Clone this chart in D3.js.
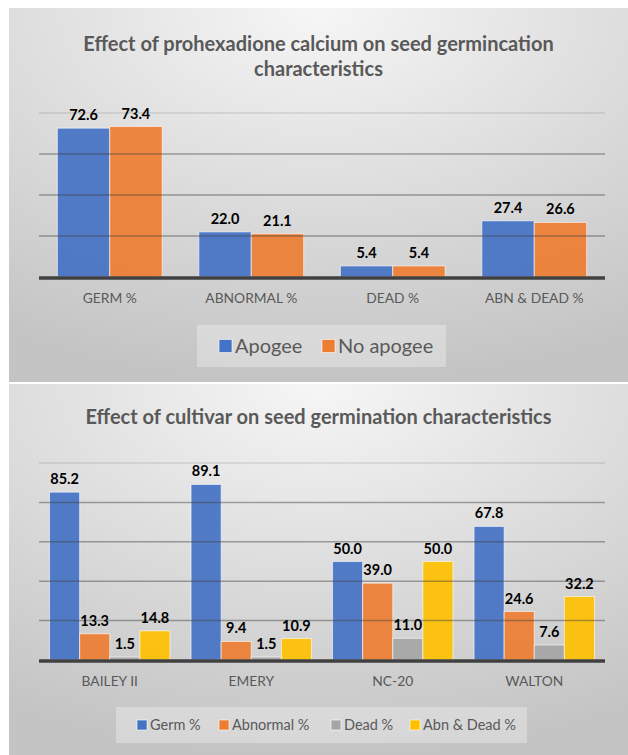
<!DOCTYPE html>
<html>
<head>
<meta charset="utf-8">
<script src="https://cdn.jsdelivr.net/npm/d3@7"></script>
<style>
  body { margin: 0; background: #fff; }
  svg { display: block; }
  text { font-family: Lato, "Open Sans", sans-serif; }
</style>
</head>
<body>
<script>
// chart 1 data
var treatCats = ["GERM %", "ABNORMAL %", "DEAD %", "ABN & DEAD %"];
var treatSeries = ["Apogee", "No apogee"];
var apogee = [72.6, 22.0, 5.4, 27.4];
var noApogee = [73.4, 21.1, 5.4, 26.6];
var treatTicks = [20, 40, 60, 80];

// chart 2 data
var cultivars = ["BAILEY II", "EMERY", "NC-20", "WALTON"];
var cultSeries = ["Germ %", "Abnormal %", "Dead %", "Abn & Dead %"];
var germ = [85.2, 89.1, 50.0, 67.8];
var abnormal = [13.3, 9.4, 39.0, 24.6];
var dead = [1.5, 1.5, 11.0, 7.6];
var abnDead = [14.8, 10.9, 50.0, 32.2];
var cultTicks = [20, 40, 60, 80, 100];

var colors = ["#4472C4", "#ED7D31", "#A5A5A5", "#FFC000"];

var svg = d3.select("body").append("svg").attr("width", 628).attr("height", 755);
var defs = svg.append("defs");
var grad = defs.append("radialGradient").attr("id", "bg")
    .attr("cx", "50%").attr("cy", "0%").attr("r", "100%").attr("fx", "50%").attr("fy", "0%");
grad.append("stop").attr("offset", "0%").attr("stop-color", "#f6f6f6");
grad.append("stop").attr("offset", "100%").attr("stop-color", "#c4c4c4");

function drawChart(opt) {
    var g = svg.append("g").attr("transform", "translate(9," + opt.top + ")");
    g.append("rect").attr("width", 619).attr("height", opt.h).attr("fill", "url(#bg)");

    var x = d3.scaleBand().domain(opt.cats).range([30, 596]);
    var n = opt.series.length;
    var groupW = x.bandwidth() * n / (n + 0.7);
    var xs = d3.scaleBand().domain(d3.range(n)).range([0, groupW]);
    var y = d3.scaleLinear().domain([0, opt.max]).range([opt.axisY, opt.plotTop]);

    g.append("g").selectAll("text").data(opt.title).enter().append("text")
        .attr("x", 309.5).attr("y", function(d, i) { return opt.titleY + i * 25; })
        .attr("text-anchor", "middle").attr("font-size", 20).attr("font-weight", "bold")
        .attr("fill", "#595959").text(function(d) { return d; });

    var rows = [];
    opt.values.forEach(function(vals, s) {
        vals.forEach(function(v, c) { rows.push({s: s, c: c, v: v}); });
    });

    g.selectAll(".bar").data(rows).enter().append("rect").attr("class", "bar")
        .attr("x", function(d) { return x(opt.cats[d.c]) + (x.bandwidth() - groupW) / 2 + xs(d.s); })
        .attr("width", xs.bandwidth())
        .attr("y", function(d) { return y(d.v); })
        .attr("height", function(d) { return y(0) - y(d.v); })
        .attr("fill", function(d) { return colors[d.s]; })
        .attr("fill-opacity", 0.92)
        .attr("stroke", "#ffffff").attr("stroke-opacity", 0.6).attr("stroke-width", 1);

    g.selectAll(".grid").data(opt.ticks).enter().append("line").attr("class", "grid")
        .attr("x1", 30).attr("x2", 596)
        .attr("y1", function(d) { return y(d); }).attr("y2", function(d) { return y(d); })
        .attr("stroke", "#404040")
        .attr("stroke-opacity", function(d) { return d === opt.max ? 0.15 : 0.45; })
        .attr("stroke-width", 1.5);

    g.append("line").attr("x1", 30).attr("x2", 596).attr("y1", y(0) + 1).attr("y2", y(0) + 1)
        .attr("stroke", "#404040").attr("stroke-width", 3.5);

    g.selectAll(".lbl").data(rows).enter().append("text").attr("class", "lbl")
        .attr("x", function(d) { return x(opt.cats[d.c]) + (x.bandwidth() - groupW) / 2 + xs(d.s) + xs.bandwidth() / 2; })
        .attr("y", function(d) { return y(d.v) - 8; })
        .attr("text-anchor", "middle").attr("font-size", 14.5).attr("font-weight", "bold")
        .attr("fill", "#000").text(function(d) { return d.v.toFixed(1); });

    g.selectAll(".cat").data(opt.cats).enter().append("text").attr("class", "cat")
        .attr("x", function(d) { return x(d) + x.bandwidth() / 2; })
        .attr("y", opt.axisY + 26)
        .attr("text-anchor", "middle").attr("font-size", 13.8).attr("fill", "#595959")
        .text(function(d) { return d; });

    // legend
    var lg = g.append("g");
    lg.append("rect").attr("x", opt.legX).attr("y", opt.legY).attr("width", opt.legW).attr("height", opt.legH)
        .attr("fill", "#ffffff").attr("fill-opacity", 0.3);
    var item = lg.selectAll(".leg").data(opt.series).enter().append("g").attr("class", "leg")
        .attr("transform", function(d, i) { return "translate(" + opt.legItems[i] + "," + (opt.legY + opt.legH / 2) + ")"; });
    item.append("rect").attr("x", 0).attr("y", -opt.sw / 2).attr("width", opt.sw).attr("height", opt.sw)
        .attr("fill", function(d, i) { return colors[i]; })
        .attr("stroke", "#fff").attr("stroke-opacity", 0.6);
    item.append("text").attr("x", opt.sw + 3).attr("dy", "0.36em")
        .attr("font-size", opt.legFont).attr("fill", "#595959").text(function(d) { return d; });
}

drawChart({
    top: 8, h: 374,
    cats: treatCats, series: treatSeries, values: [apogee, noApogee], ticks: treatTicks, max: 80,
    title: ["Effect of prohexadione calcium on seed germincation", "characteristics"], titleY: 43,
    axisY: 269, plotTop: 105,
    legX: 188, legY: 317, legW: 249, legH: 42, legItems: [210, 313], sw: 13, legFont: 20
});

drawChart({
    top: 384, h: 371,
    cats: cultivars, series: cultSeries, values: [germ, abnormal, dead, abnDead], ticks: cultTicks, max: 100,
    title: ["Effect of cultivar on seed germination characteristics"], titleY: 40,
    axisY: 276, plotTop: 79,
    legX: 107, legY: 323, legW: 411, legH: 36, legItems: [128, 210, 322, 401], sw: 10, legFont: 14.5
});
</script>
</body>
</html>
